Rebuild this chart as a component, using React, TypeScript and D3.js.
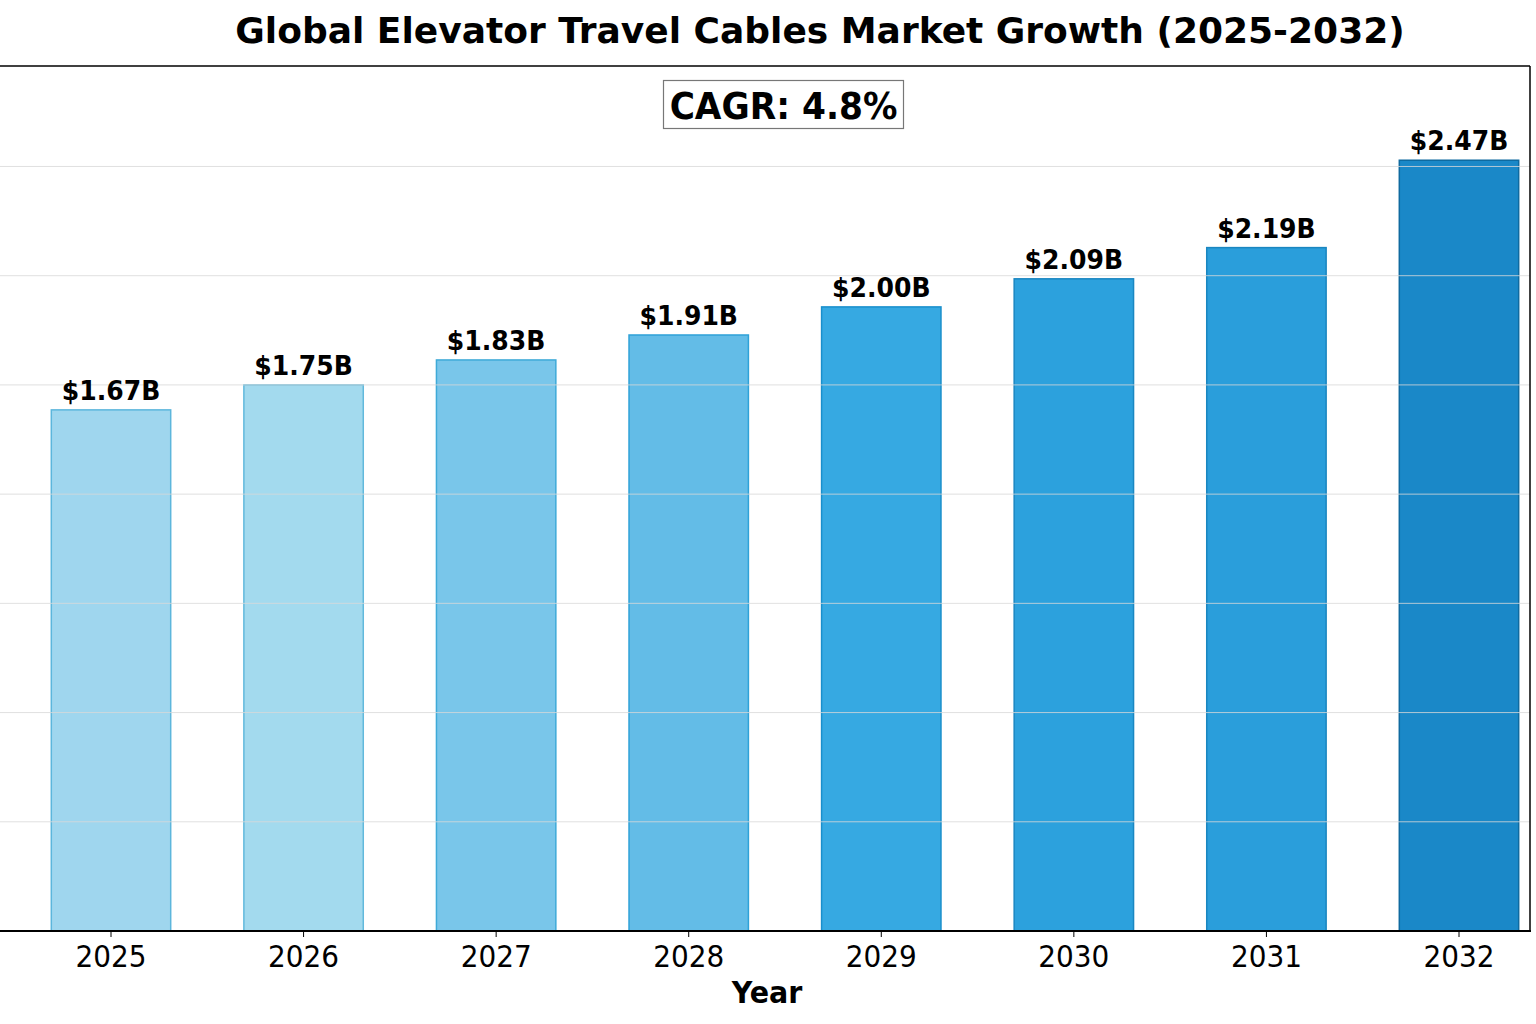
import React from "react";
import * as d3 from "d3";

// Market size by year, in billions of USD
const years = ["2025", "2026", "2027", "2028", "2029", "2030", "2031", "2032"];
const marketSize = [1.67, 1.75, 1.83, 1.91, 2.0, 2.09, 2.19, 2.47];
const barColors = ["#9fd6ee", "#a3daee", "#79c6ea", "#63bce7", "#36a9e2", "#2ca1dd", "#2a9edb", "#1a88c8"];
const barEdges = ["#5cb6dc", "#62b9dc", "#3eaad8", "#2fa2d8", "#1a8fcc", "#1a87c2", "#1a86c0", "#0f6aa0"];
const gridValues = [0.35, 0.7, 1.05, 1.4, 1.75, 2.1, 2.45];
const title = "Global Elevator Travel Cables Market Growth (2025-2032)";
const cagrText = "CAGR: 4.8%";
const xLabel = "Year";

const W = 1536;
const H = 1024;
const plot = { left: 0, right: 1530, top: 66, bottom: 931 };

const FONT = "'DejaVu Sans', sans-serif";

export default function App() {
  const x = d3.scalePoint<string>().domain(years).range([111, 1459]);
  const step = x.step();
  const barW = step * 0.62;
  const y = d3.scaleLinear().domain([0, 2.772]).range([plot.bottom, plot.top]);

  return (
    <div style={{ position: "absolute", left: 0, top: 0 }}>
      <svg width={W} height={H} style={{ display: "block", background: "#fff" }}>
        {/* bars */}
        {years.map((yr, i) => {
          const cx = x(yr) as number;
          const top = y(marketSize[i]);
          return (
            <rect
              key={yr}
              x={cx - barW / 2}
              y={top}
              width={barW}
              height={plot.bottom - top}
              fill={barColors[i]}
              stroke={barEdges[i]}
              strokeWidth={1.5}
            />
          );
        })}

        {/* horizontal grid */}
        {gridValues.map((v) => (
          <line
            key={v}
            x1={plot.left}
            x2={plot.right}
            y1={y(v)}
            y2={y(v)}
            stroke="#d8d8d8"
            strokeOpacity={0.8}
            strokeWidth={1}
          />
        ))}

        {/* frame */}
        <line x1={plot.left} x2={plot.right} y1={plot.top} y2={plot.top} stroke="#000" strokeWidth={1.5} />
        <line x1={plot.right} x2={plot.right} y1={plot.top} y2={plot.bottom} stroke="#000" strokeWidth={1.5} />
        <line x1={plot.left} x2={plot.right + 1} y1={plot.bottom} y2={plot.bottom} stroke="#000" strokeWidth={2} />

        {/* ticks and tick labels */}
        {years.map((yr) => {
          const cx = x(yr) as number;
          return (
            <g key={"t" + yr}>
              <line x1={cx} x2={cx} y1={plot.bottom} y2={plot.bottom + 6} stroke="#000" strokeWidth={1} />
              <text
                transform={`translate(${cx},967) scale(0.9,1)`}
                textAnchor="middle"
                fontFamily={FONT}
                fontSize={31}
                fill="#000"
              >
                {yr}
              </text>
            </g>
          );
        })}

        {/* value labels */}
        {years.map((yr, i) => {
          const cx = x(yr) as number;
          return (
            <text
              key={"v" + yr}
              transform={`translate(${cx},${y(marketSize[i]) - 10}) scale(0.93,1)`}
              textAnchor="middle"
              fontFamily={FONT}
              fontWeight="bold"
              fontSize={27}
              fill="#000"
            >
              {`$${marketSize[i].toFixed(2)}B`}
            </text>
          );
        })}

        {/* CAGR box */}
        <rect x={663.5} y={80.5} width={240} height={48} fill="#fff" stroke="#777" strokeWidth={1.2} />
        <text
          transform="translate(783.5,119) scale(0.93,1)"
          textAnchor="middle"
          fontFamily={FONT}
          fontWeight="bold"
          fontSize={37}
          fill="#000"
        >
          {cagrText}
        </text>

        {/* axis label */}
        <text
          transform="translate(767,1003) scale(0.92,1)"
          textAnchor="middle"
          fontFamily={FONT}
          fontWeight="bold"
          fontSize={31}
          fill="#000"
        >
          {xLabel}
        </text>

        {/* title */}
        <text x={820} y={43} textAnchor="middle" fontFamily={FONT} fontWeight="bold" fontSize={36} fill="#000">
          {title}
        </text>
      </svg>
    </div>
  );
}
